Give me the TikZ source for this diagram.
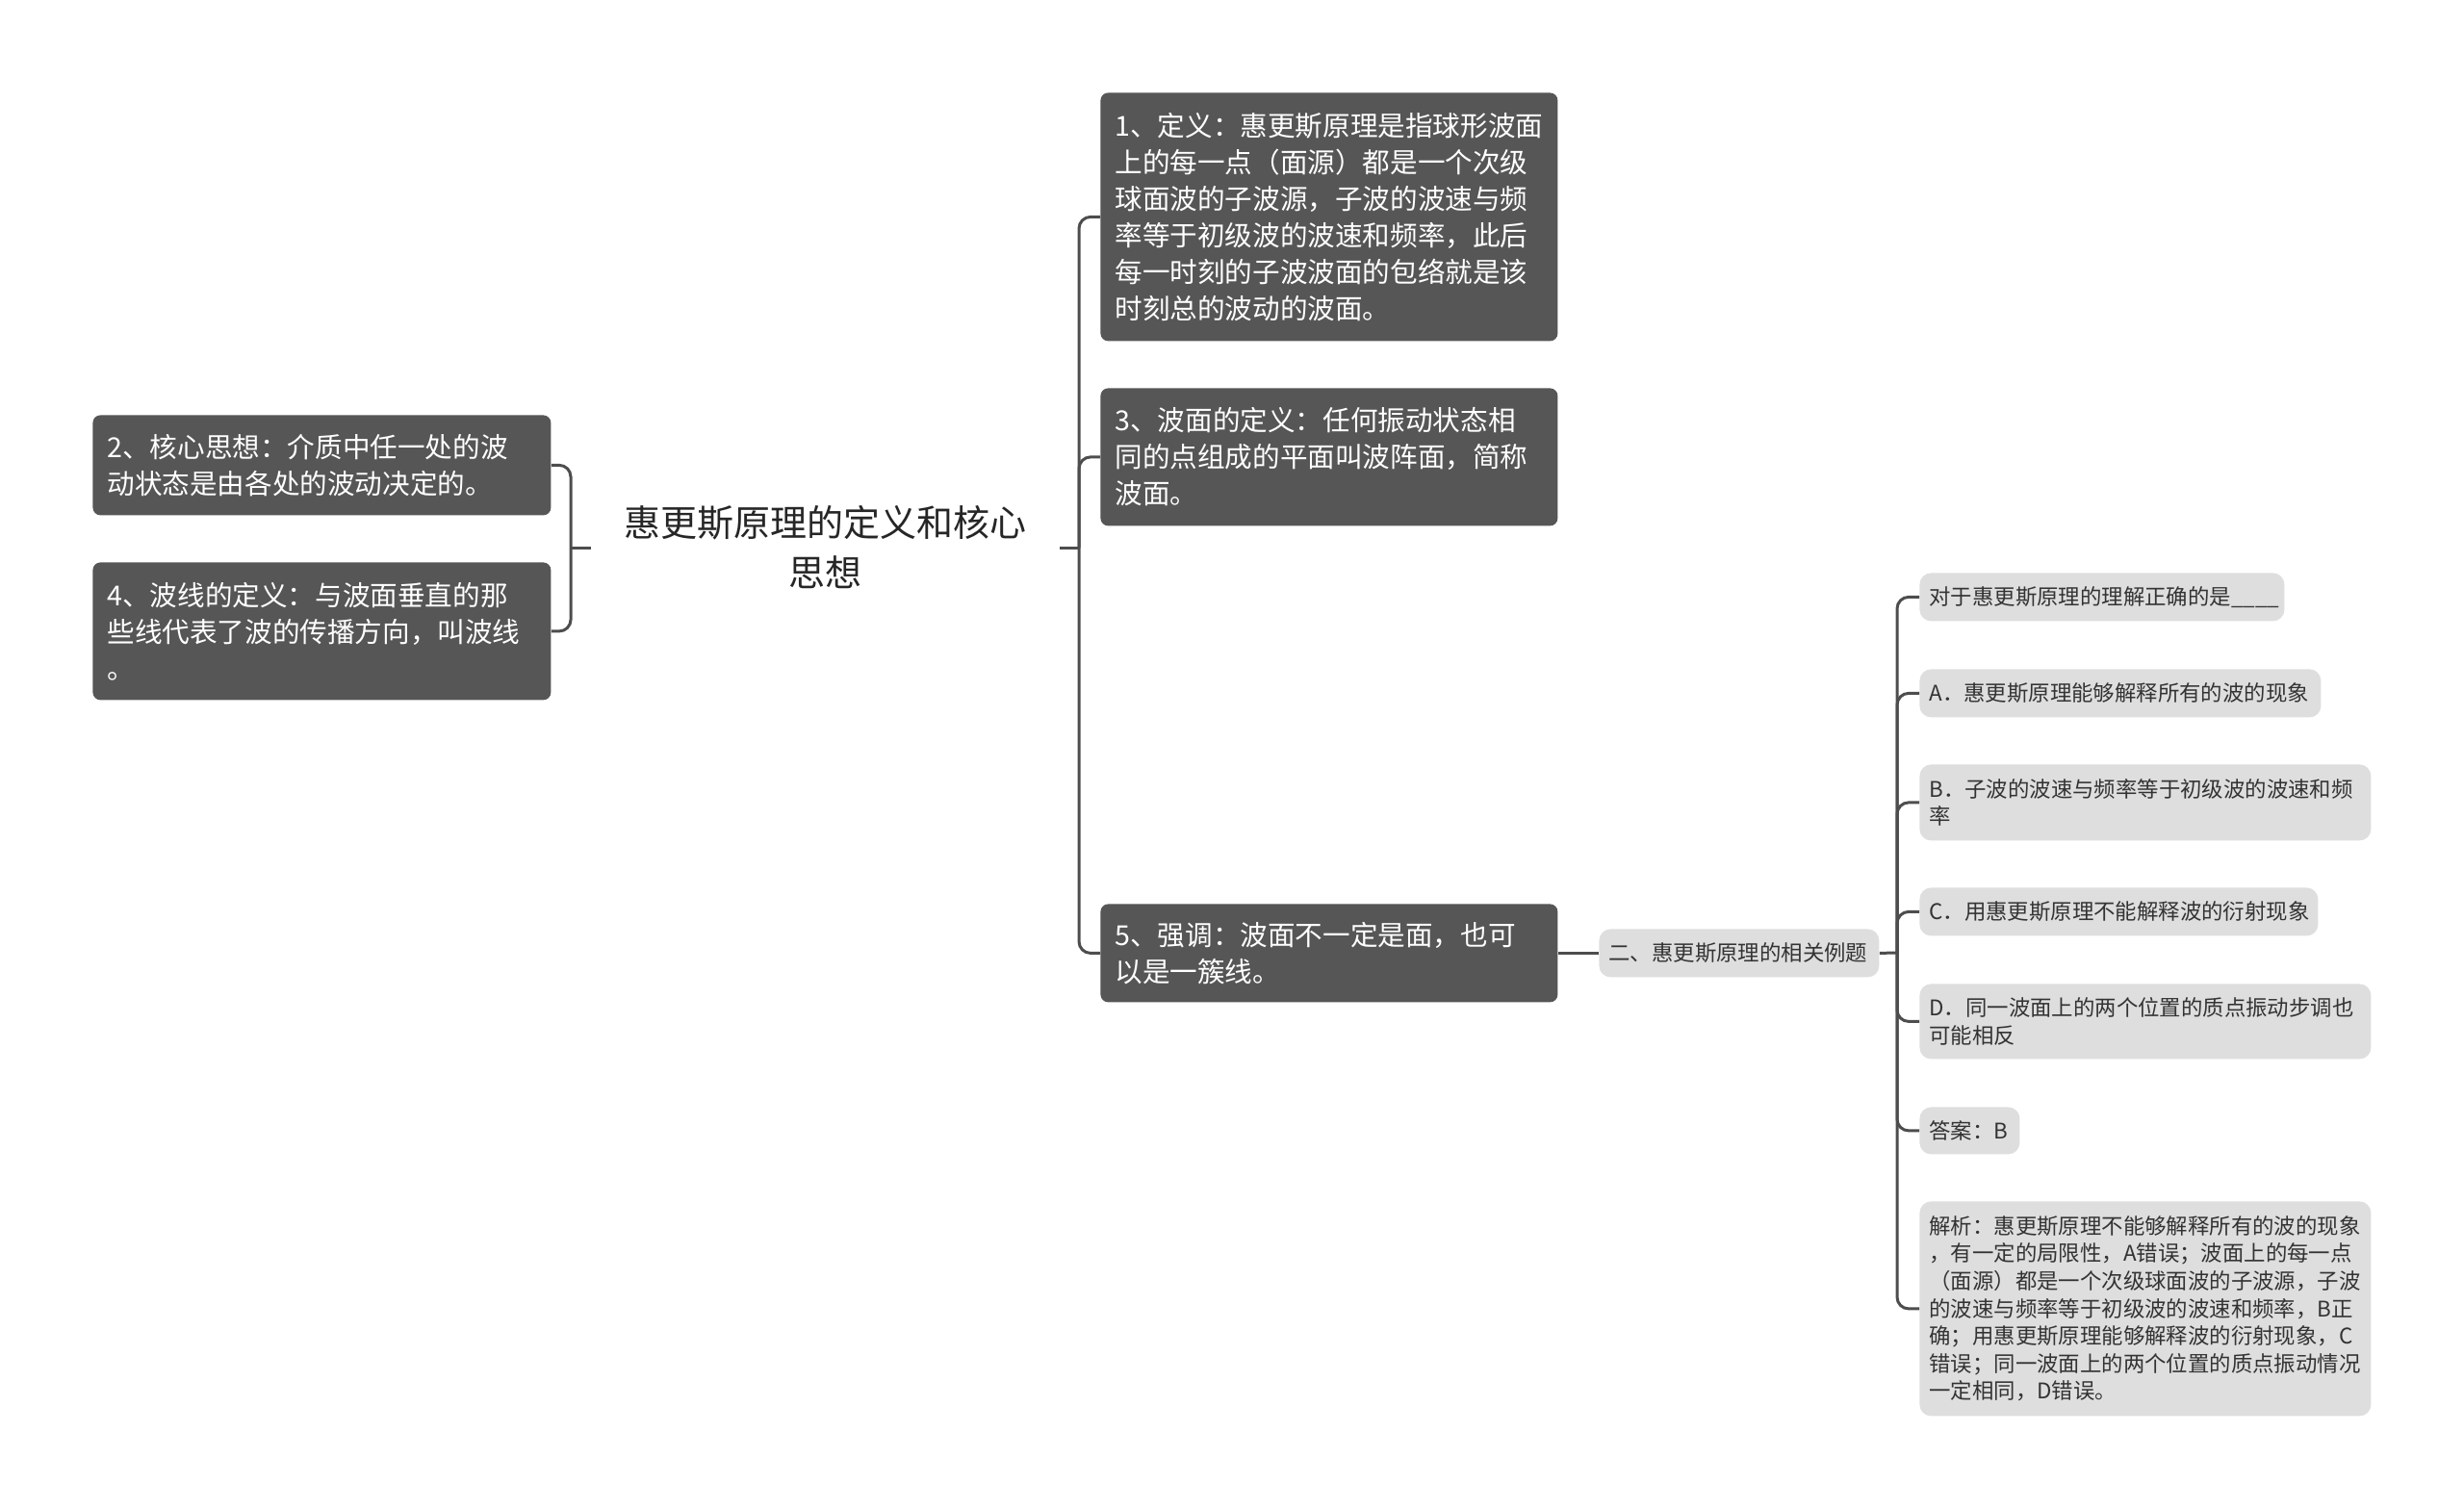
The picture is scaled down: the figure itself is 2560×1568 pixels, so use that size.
\documentclass[tikz,border=0pt]{standalone}
\usepackage{fontspec}
\newfontfamily\cjk{Noto Sans CJK SC}
\definecolor{darkfill}{HTML}{565656}
\definecolor{lightfill}{HTML}{DEDEDE}
\definecolor{linec}{HTML}{4D4D4D}
\definecolor{txt}{HTML}{333333}
\begin{document}
\begin{tikzpicture}[x=0.5pt,y=-0.5pt,
  darkbox/.style={fill=darkfill, rounded corners=4pt, text=white,
    font=\cjk\fontsize{14.3pt}{19pt}\selectfont, align=left, anchor=north west,
    inner xsep=7.5pt, inner ysep=0pt},
  lightbox/.style={fill=lightfill, rounded corners=6pt, text=txt,
    font=\cjk\fontsize{11.2pt}{14.3pt}\selectfont, align=left, anchor=north west,
    inner xsep=5pt, inner ysep=0pt},
  conn/.style={draw=linec, line width=1.5pt, rounded corners=6pt}
]
\useasboundingbox (0,0) rectangle (2560,1568);
\fill[white] (0,0) rectangle (2560,1568);

% root
\node[font=\cjk\fontsize{19pt}{26pt}\selectfont, align=center, text=black!85,
  minimum width=243.5pt, inner sep=0pt] (root) at (857.5,569)
  {惠更斯原理的定义和核心\\思想};

% right dark boxes
\node[darkbox, text width=222.5pt, minimum height=129pt] (b1) at (1143,96)
 {1、定义：惠更斯原理是指球形波面\\上的每一点（面源）都是一个次级\\球面波的子波源，子波的波速与频\\率等于初级波的波速和频率，此后\\每一时刻的子波波面的包络就是该\\时刻总的波动的波面。};
\node[darkbox, text width=222.5pt, minimum height=71.5pt] (b3) at (1143,403)
 {3、波面的定义：任何振动状态相\\同的点组成的平面叫波阵面，简称\\波面。};
\node[darkbox, text width=222.5pt, minimum height=51pt] (b5) at (1143,939)
 {5、强调：波面不一定是面，也可\\以是一簇线。};

% left dark boxes
\node[darkbox, text width=223pt, minimum height=52pt] (b2) at (96,431)
 {2、核心思想：介质中任一处的波\\动状态是由各处的波动决定的。};
\node[darkbox, text width=223pt, minimum height=71.5pt] (b4) at (96,584)
 {4、波线的定义：与波面垂直的那\\些线代表了波的传播方向，叫波线\\。};

% example node
\node[lightbox, text width=135.5pt, minimum height=25pt] (ex) at (1661,965)
 {二、惠更斯原理的相关例题};

% question items
\node[lightbox, text width=179.5pt, minimum height=25pt] (q) at (1994,595)
 {对于惠更斯原理的理解正确的是\_\_\_\_};
\node[lightbox, text width=198.5pt, minimum height=25pt] (qa) at (1994,695)
 {A．惠更斯原理能够解释所有的波的现象};
\node[lightbox, text width=224.5pt, minimum height=39.5pt] (qb) at (1994,794)
 {B．子波的波速与频率等于初级波的波速和频\\率};
\node[lightbox, text width=197pt, minimum height=25pt] (qc) at (1994,922)
 {C．用惠更斯原理不能解释波的衍射现象};
\node[lightbox, text width=224.5pt, minimum height=39pt] (qd) at (1994,1022)
 {D．同一波面上的两个位置的质点振动步调也\\可能相反};
\node[lightbox, text width=42pt, minimum height=24.5pt] (ans) at (1994,1150)
 {答案：B};
\node[lightbox, text width=224.5pt, minimum height=111.5pt] (jx) at (1994,1248)
 {解析：惠更斯原理不能够解释所有的波的现象\\，有一定的局限性，A错误；波面上的每一点\\（面源）都是一个次级球面波的子波源，子波\\的波速与频率等于初级波的波速和频率，B正\\确；用惠更斯原理能够解释波的衍射现象，C\\错误；同一波面上的两个位置的质点振动情况\\一定相同，D错误。};

% connectors
\coordinate (rR) at (1121,569);
\coordinate (lL) at (593,569);
\coordinate (xR) at (1971,990);

\draw[conn] (root.east) -- (rR);
\draw[conn] (rR) |- (b1.west);
\draw[conn] (rR) |- (b3.west);
\draw[conn] (rR) |- (b5.west);

\draw[conn] (root.west) -- (lL);
\draw[conn] (lL) |- (b2.east);
\draw[conn] (lL) |- (b4.east);

\draw[conn] (b5.east) -- (ex.west);
\draw[conn] (ex.east) -- (xR);
\draw[conn] (xR) |- (q.west);
\draw[conn] (xR) |- (qa.west);
\draw[conn] (xR) |- (qb.west);
\draw[conn] (xR) |- (qc.west);
\draw[conn] (xR) |- (qd.west);
\draw[conn] (xR) |- (ans.west);
\draw[conn] (xR) |- (jx.west);
\end{tikzpicture}
\end{document}
